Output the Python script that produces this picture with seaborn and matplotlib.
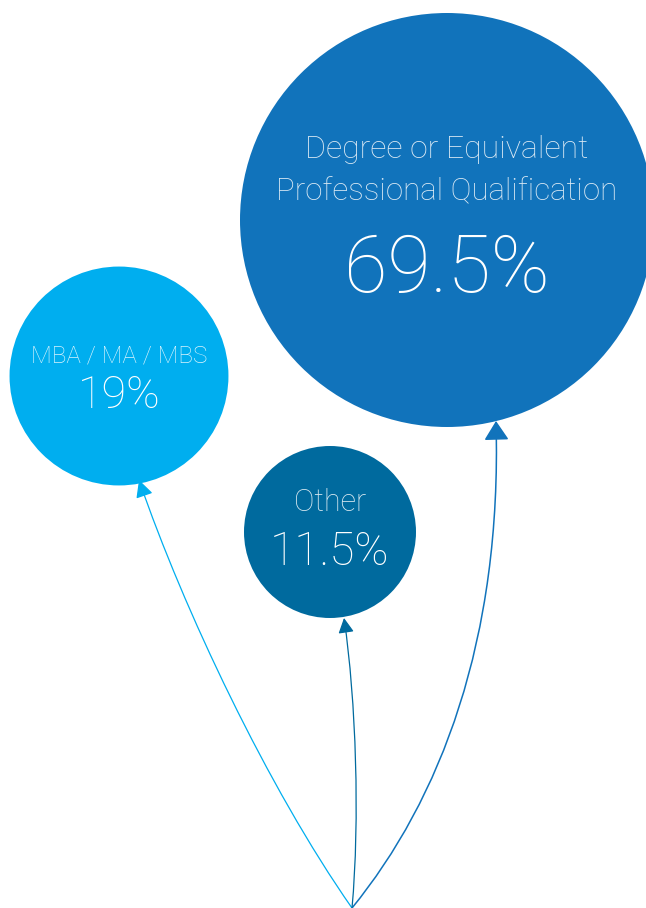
import matplotlib
matplotlib.use("Agg")
import matplotlib.pyplot as plt
from matplotlib.patches import FancyArrowPatch
from matplotlib.path import Path
import seaborn as sns
import pandas as pd

# Qualification shares (percent)
categories = ["Degree or Equivalent\nProfessional Qualification", "MBA / MA / MBS", "Other"]
values = [69.5, 19.0, 11.5]
value_labels = ["69.5%", "19%", "11.5%"]
colors = ["#1173bb", "#00aeef", "#006a9e"]

# Balloon layout (pixel space, y grows downward)
centers_x = [447, 119, 330]
centers_y = [220, 376, 532]
label_base_y = [(158, 200), (363,), (511,)]
value_base_y = [292, 408, 565]
label_sizes = [(23, 22.5), (17.5,), (22,)]
value_sizes = [57, 32.5, 33]

W, H = 646, 908
sns.set_theme(style="white")
plt.rcParams["font.family"] = ["Roboto", "DejaVu Sans"]

fig = plt.figure(figsize=(W / 100, H / 100), dpi=100)
ax = fig.add_axes([0, 0, 1, 1])

df = pd.DataFrame({"category": categories, "value": values,
                   "cx": centers_x, "cy": centers_y})

# Balloon bodies: marker area grows linearly with the share
sns.scatterplot(data=df, x="cx", y="cy", hue="category", size="value",
                sizes=(15336, 88852), palette=colors, linewidth=0,
                alpha=1, legend=False, ax=ax, zorder=2)

# Strings: all tied at one point at the bottom
knot = (352, 908)
strings = [
    [(440, 800), (502, 640), (496, 421)],
    [(268, 788), (183, 608), (139, 480)],
    [(360, 820), (356, 700), (344, 618)],
]
head = [(0.85, 0.55), (0.75, 0.38), (0.65, 0.34)]
lws = [1.1, 0.9, 0.9]
for ctrl, col, (hl, hw), lw in zip(strings, colors, head, lws):
    p = Path([knot] + ctrl, [Path.MOVETO, Path.CURVE4, Path.CURVE4, Path.CURVE4])
    arr = FancyArrowPatch(path=p, arrowstyle=f"-|>,head_length={hl},head_width={hw}",
                          mutation_scale=14, color=col, lw=lw, zorder=3)
    ax.add_patch(arr)

# Text inside the balloons
for i, cat in enumerate(categories):
    for line, yb, fs in zip(cat.split("\n"), label_base_y[i], label_sizes[i]):
        ax.text(centers_x[i], yb, line, ha="center", va="baseline",
                fontsize=fs, color="white", alpha=0.85, fontweight=100,
                zorder=4)
    ax.text(centers_x[i], value_base_y[i], value_labels[i], ha="center", va="baseline",
            fontsize=value_sizes[i], color="white", fontweight=100, zorder=4)

ax.set_xlim(0, W)
ax.set_ylim(H, 0)
ax.set_axis_off()
fig.savefig("out.png", dpi=100, facecolor="white")
